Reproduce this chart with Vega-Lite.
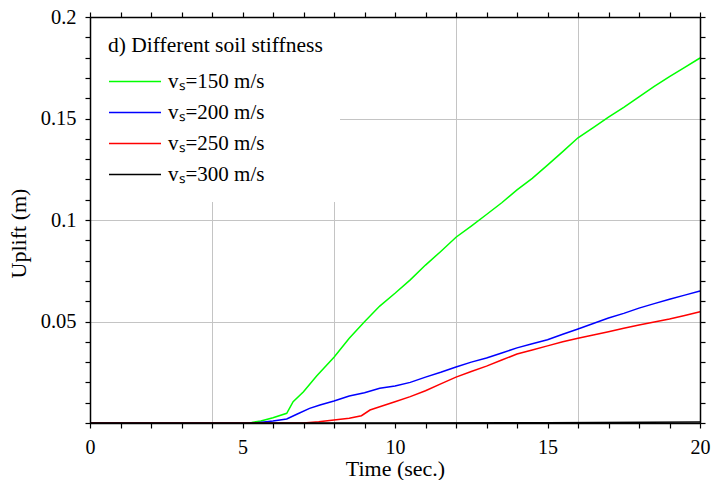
{
  "$schema": "https://vega.github.io/schema/vega-lite/v6.json",
  "width": 610,
  "height": 406,
  "autosize": {"type": "none"},
  "padding": {"left": 90, "top": 17, "right": 11, "bottom": 57},
  "background": "white",
  "config": {
    "view": {"stroke": null},
    "font": "Liberation Serif",
    "axis": {
      "labelFont": "Liberation Serif",
      "titleFont": "Liberation Serif",
      "labelColor": "black",
      "titleColor": "black",
      "titleFontWeight": "normal",
      "labelFlush": false,
      "labelOverlap": false,
      "labelBound": false
    }
  },
  "data": {
    "values": [
      {"s": "vₛ=150 m/s", "t": 0, "u": 0},
      {"s": "vₛ=150 m/s", "t": 5, "u": 0},
      {"s": "vₛ=150 m/s", "t": 5.3, "u": 0.0003},
      {"s": "vₛ=150 m/s", "t": 5.6, "u": 0.001},
      {"s": "vₛ=150 m/s", "t": 6, "u": 0.0026},
      {"s": "vₛ=150 m/s", "t": 6.45, "u": 0.0048},
      {"s": "vₛ=150 m/s", "t": 6.66, "u": 0.0105},
      {"s": "vₛ=150 m/s", "t": 7, "u": 0.0154},
      {"s": "vₛ=150 m/s", "t": 7.43, "u": 0.0231},
      {"s": "vₛ=150 m/s", "t": 8, "u": 0.0324},
      {"s": "vₛ=150 m/s", "t": 8.5, "u": 0.0417},
      {"s": "vₛ=150 m/s", "t": 9, "u": 0.0499},
      {"s": "vₛ=150 m/s", "t": 9.5, "u": 0.0576},
      {"s": "vₛ=150 m/s", "t": 10, "u": 0.0639},
      {"s": "vₛ=150 m/s", "t": 10.5, "u": 0.0705},
      {"s": "vₛ=150 m/s", "t": 11, "u": 0.0778},
      {"s": "vₛ=150 m/s", "t": 11.5, "u": 0.0845},
      {"s": "vₛ=150 m/s", "t": 12, "u": 0.0915},
      {"s": "vₛ=150 m/s", "t": 12.5, "u": 0.097},
      {"s": "vₛ=150 m/s", "t": 13, "u": 0.1027},
      {"s": "vₛ=150 m/s", "t": 13.5, "u": 0.1085},
      {"s": "vₛ=150 m/s", "t": 14, "u": 0.1148},
      {"s": "vₛ=150 m/s", "t": 14.5, "u": 0.1205},
      {"s": "vₛ=150 m/s", "t": 15, "u": 0.127},
      {"s": "vₛ=150 m/s", "t": 15.5, "u": 0.1337},
      {"s": "vₛ=150 m/s", "t": 16, "u": 0.1405},
      {"s": "vₛ=150 m/s", "t": 16.5, "u": 0.1455},
      {"s": "vₛ=150 m/s", "t": 17, "u": 0.1507},
      {"s": "vₛ=150 m/s", "t": 17.5, "u": 0.1555},
      {"s": "vₛ=150 m/s", "t": 18, "u": 0.1607},
      {"s": "vₛ=150 m/s", "t": 18.5, "u": 0.1658},
      {"s": "vₛ=150 m/s", "t": 19, "u": 0.1706},
      {"s": "vₛ=150 m/s", "t": 19.5, "u": 0.1752},
      {"s": "vₛ=150 m/s", "t": 20, "u": 0.1798},
      {"s": "vₛ=200 m/s", "t": 0, "u": 0},
      {"s": "vₛ=200 m/s", "t": 5.4, "u": 0},
      {"s": "vₛ=200 m/s", "t": 6, "u": 0.001},
      {"s": "vₛ=200 m/s", "t": 6.45, "u": 0.002},
      {"s": "vₛ=200 m/s", "t": 6.78, "u": 0.0043},
      {"s": "vₛ=200 m/s", "t": 7.2, "u": 0.0072},
      {"s": "vₛ=200 m/s", "t": 7.54, "u": 0.0089},
      {"s": "vₛ=200 m/s", "t": 8, "u": 0.0108},
      {"s": "vₛ=200 m/s", "t": 8.5, "u": 0.0133},
      {"s": "vₛ=200 m/s", "t": 9, "u": 0.0149},
      {"s": "vₛ=200 m/s", "t": 9.5, "u": 0.0171},
      {"s": "vₛ=200 m/s", "t": 10, "u": 0.0182},
      {"s": "vₛ=200 m/s", "t": 10.5, "u": 0.02},
      {"s": "vₛ=200 m/s", "t": 11, "u": 0.0226},
      {"s": "vₛ=200 m/s", "t": 11.5, "u": 0.025},
      {"s": "vₛ=200 m/s", "t": 12, "u": 0.0276},
      {"s": "vₛ=200 m/s", "t": 12.5, "u": 0.03},
      {"s": "vₛ=200 m/s", "t": 13, "u": 0.032},
      {"s": "vₛ=200 m/s", "t": 13.5, "u": 0.0345},
      {"s": "vₛ=200 m/s", "t": 14, "u": 0.037},
      {"s": "vₛ=200 m/s", "t": 14.5, "u": 0.039},
      {"s": "vₛ=200 m/s", "t": 15, "u": 0.041},
      {"s": "vₛ=200 m/s", "t": 15.5, "u": 0.0437},
      {"s": "vₛ=200 m/s", "t": 16, "u": 0.0463},
      {"s": "vₛ=200 m/s", "t": 16.5, "u": 0.049},
      {"s": "vₛ=200 m/s", "t": 17, "u": 0.0517},
      {"s": "vₛ=200 m/s", "t": 17.5, "u": 0.054},
      {"s": "vₛ=200 m/s", "t": 18, "u": 0.0566},
      {"s": "vₛ=200 m/s", "t": 18.5, "u": 0.0588},
      {"s": "vₛ=200 m/s", "t": 19, "u": 0.061},
      {"s": "vₛ=200 m/s", "t": 19.5, "u": 0.063},
      {"s": "vₛ=200 m/s", "t": 20, "u": 0.065},
      {"s": "vₛ=250 m/s", "t": 0, "u": 0},
      {"s": "vₛ=250 m/s", "t": 7, "u": 0},
      {"s": "vₛ=250 m/s", "t": 7.5, "u": 0.0006},
      {"s": "vₛ=250 m/s", "t": 8, "u": 0.0015},
      {"s": "vₛ=250 m/s", "t": 8.5, "u": 0.0023},
      {"s": "vₛ=250 m/s", "t": 8.9, "u": 0.0036},
      {"s": "vₛ=250 m/s", "t": 9.18, "u": 0.0064},
      {"s": "vₛ=250 m/s", "t": 9.5, "u": 0.008},
      {"s": "vₛ=250 m/s", "t": 10, "u": 0.0105},
      {"s": "vₛ=250 m/s", "t": 10.5, "u": 0.013},
      {"s": "vₛ=250 m/s", "t": 11, "u": 0.0159},
      {"s": "vₛ=250 m/s", "t": 11.5, "u": 0.0193},
      {"s": "vₛ=250 m/s", "t": 12, "u": 0.0226},
      {"s": "vₛ=250 m/s", "t": 12.5, "u": 0.0254},
      {"s": "vₛ=250 m/s", "t": 13, "u": 0.028},
      {"s": "vₛ=250 m/s", "t": 13.5, "u": 0.031},
      {"s": "vₛ=250 m/s", "t": 14, "u": 0.034},
      {"s": "vₛ=250 m/s", "t": 14.5, "u": 0.036},
      {"s": "vₛ=250 m/s", "t": 15, "u": 0.038},
      {"s": "vₛ=250 m/s", "t": 15.5, "u": 0.04},
      {"s": "vₛ=250 m/s", "t": 16, "u": 0.0418},
      {"s": "vₛ=250 m/s", "t": 16.5, "u": 0.0434},
      {"s": "vₛ=250 m/s", "t": 17, "u": 0.045},
      {"s": "vₛ=250 m/s", "t": 17.5, "u": 0.0467},
      {"s": "vₛ=250 m/s", "t": 18, "u": 0.0483},
      {"s": "vₛ=250 m/s", "t": 18.5, "u": 0.0497},
      {"s": "vₛ=250 m/s", "t": 19, "u": 0.0512},
      {"s": "vₛ=250 m/s", "t": 19.5, "u": 0.053},
      {"s": "vₛ=250 m/s", "t": 20, "u": 0.0548},
      {"s": "vₛ=300 m/s", "t": 0, "u": 0},
      {"s": "vₛ=300 m/s", "t": 10, "u": 0},
      {"s": "vₛ=300 m/s", "t": 15, "u": 0.0001},
      {"s": "vₛ=300 m/s", "t": 20, "u": 0.0005}
    ]
  },
  "encoding": {
    "x": {"field": "t", "type": "quantitative", "scale": {"domain": [0, 20], "nice": false, "zero": false}},
    "y": {"field": "u", "type": "quantitative", "scale": {"domain": [0, 0.2], "nice": false, "zero": false}}
  },
  "layer": [
    {
      "mark": {"type": "point", "opacity": 0},
      "encoding": {
        "x": {"field": "t", "type": "quantitative", "axis": {"orient": "bottom", "values": [4, 8, 12, 16], "grid": true, "gridColor": "#c4c4c4", "gridWidth": 1, "domain": false, "ticks": false, "labels": false, "title": null, "zindex": 0}},
        "y": {"field": "u", "type": "quantitative", "axis": {"orient": "left", "values": [0.05, 0.1, 0.15], "grid": true, "gridColor": "#c4c4c4", "gridWidth": 1, "domain": false, "ticks": false, "labels": false, "title": null, "zindex": 0}}
      }
    },
    {
      "mark": {"type": "line", "strokeWidth": 1.5},
      "encoding": {
        "x": {"field": "t", "type": "quantitative", "axis": {"orient": "bottom", "values": [0, 5, 10, 15, 20], "grid": false, "domain": true, "domainColor": "black", "domainWidth": 1.5, "ticks": false, "labelFontSize": 20, "labelPadding": 14, "title": "Time (sec.)", "titleFontSize": 22, "titlePadding": 1, "zindex": 1}},
        "y": {"field": "u", "type": "quantitative", "axis": {"orient": "left", "values": [0.05, 0.1, 0.15, 0.2], "format": "~g", "grid": false, "domain": true, "domainColor": "black", "domainWidth": 1.5, "ticks": false, "labelFontSize": 20.5, "labelPadding": 14, "title": "Uplift (m)", "titleFontSize": 22, "titlePadding": 10, "titleY": 216, "zindex": 1}},
        "color": {
          "field": "s",
          "type": "nominal",
          "sort": ["vₛ=150 m/s", "vₛ=200 m/s", "vₛ=250 m/s", "vₛ=300 m/s"],
          "scale": {"domain": ["vₛ=150 m/s", "vₛ=200 m/s", "vₛ=250 m/s", "vₛ=300 m/s"], "range": ["#00ff00", "#0000ff", "#ff0000", "#000000"]},
          "legend": {
            "orient": "none",
            "legendX": 1,
            "legendY": 1,
            "fillColor": "white",
            "padding": 17,
            "title": "d) Different soil stiffness",
            "titleFont": "Liberation Serif",
            "titleFontSize": 21.5,
            "titleFontWeight": "normal",
            "titleColor": "black",
            "titlePadding": 11,
            "titleLimit": 400,
            "labelFont": "Liberation Serif",
            "labelFontSize": 21,
            "labelColor": "black",
            "labelLimit": 300,
            "labelOffset": 19,
            "symbolType": "M-2,0H2",
            "symbolSize": 676,
            "symbolOffset": 13,
            "symbolStrokeWidth": 1.5,
            "rowPadding": 7,
            "zindex": 0
          }
        }
      }
    },
    {
      "mark": {"type": "point", "opacity": 0},
      "encoding": {
        "x": {"field": "t", "type": "quantitative", "axis": {"orient": "top", "labels": false, "grid": false, "domain": true, "domainColor": "black", "domainWidth": 1.5, "ticks": false, "title": null, "zindex": 1}},
        "y": {"field": "u", "type": "quantitative", "axis": {"orient": "right", "labels": false, "grid": false, "domain": true, "domainColor": "black", "domainWidth": 1.5, "ticks": false, "title": null, "zindex": 1}}
      }
    },
    {
      "mark": {"type": "point", "opacity": 0},
      "encoding": {
        "x": {"field": "t", "type": "quantitative", "axis": {"orient": "bottom", "values": [0,1,2,3,4,5,6,7,8,9,10,11,12,13,14,15,16,17,18,19,20], "labels": false, "grid": false, "domain": false, "ticks": true, "tickColor": "#000000", "tickSize": 5, "tickWidth": 1.2, "title": null, "zindex": 2}},
        "y": {"field": "u", "type": "quantitative", "axis": {"orient": "left", "values": [0,0.01,0.02,0.03,0.04,0.05,0.06,0.07,0.08,0.09,0.1,0.11,0.12,0.13,0.14,0.15,0.16,0.17,0.18,0.19,0.2], "labels": false, "grid": false, "domain": false, "ticks": true, "tickColor": "#000000", "tickSize": 5, "tickWidth": 1.2, "title": null, "zindex": 2}}
      }
    },
    {
      "mark": {"type": "point", "opacity": 0},
      "encoding": {
        "x": {"field": "t", "type": "quantitative", "axis": {"orient": "top", "values": [0,1,2,3,4,5,6,7,8,9,10,11,12,13,14,15,16,17,18,19,20], "labels": false, "grid": false, "domain": false, "ticks": true, "tickColor": "#000000", "tickSize": 5, "tickWidth": 1.2, "title": null, "zindex": 2}},
        "y": {"field": "u", "type": "quantitative", "axis": {"orient": "right", "values": [0,0.01,0.02,0.03,0.04,0.05,0.06,0.07,0.08,0.09,0.1,0.11,0.12,0.13,0.14,0.15,0.16,0.17,0.18,0.19,0.2], "labels": false, "grid": false, "domain": false, "ticks": true, "tickColor": "#000000", "tickSize": 5, "tickWidth": 1.2, "title": null, "zindex": 2}}
      }
    }
  ],
  "resolve": {"axis": {"x": "independent", "y": "independent"}}
}
